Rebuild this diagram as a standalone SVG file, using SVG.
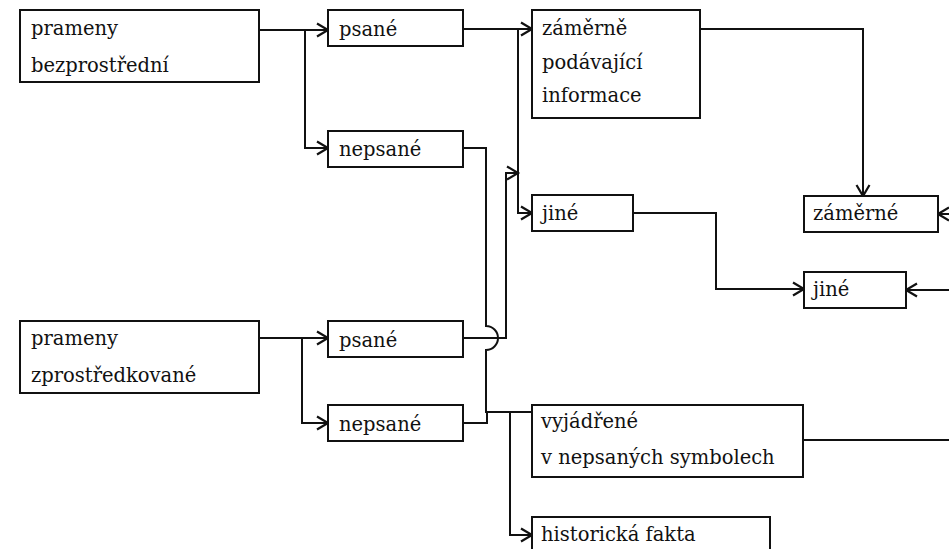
<svg xmlns="http://www.w3.org/2000/svg" width="949" height="549" viewBox="0 0 949 549">
<style>
.box{fill:#fff;stroke:#111;stroke-width:2}
.t{font-family:"DejaVu Serif","Liberation Serif",serif;font-size:19.5px;fill:#111}
.c{fill:none;stroke:#111;stroke-width:2}
</style>
<defs>
<marker id="ah" markerUnits="userSpaceOnUse" markerWidth="16" markerHeight="16" viewBox="-12 -8 14 16" refX="0" refY="0" orient="auto">
<path d="M-11,-6.5 L0,0 L-11,6.5" fill="none" stroke="#111" stroke-width="2.2"/>
</marker>
</defs>
<rect width="949" height="549" fill="#fff"/>
<g id="connectors">
<path class="c" d="M259,30 H328" marker-end="url(#ah)"/>
<path class="c" d="M305,30 V148 H328" marker-end="url(#ah)"/>
<path class="c" d="M463,29 H532" marker-end="url(#ah)"/>
<path class="c" d="M518,29 V213 H532" marker-end="url(#ah)"/>
<path class="c" d="M463,338 H506 V173 H518" marker-end="url(#ah)"/>
<path class="c" d="M463,148 H486 V326 A12,12 0 0 1 486,350 V412 H532"/>
<path class="c" d="M463,423 H487 V412"/>
<path class="c" d="M510,412 V535 H532" marker-end="url(#ah)"/>
<path class="c" d="M700,29 H863 V196" marker-end="url(#ah)"/>
<path class="c" d="M633,213 H716 V289 H804" marker-end="url(#ah)"/>
<path class="c" d="M949,214 H938" marker-end="url(#ah)"/>
<path class="c" d="M949,290 H906" marker-end="url(#ah)"/>
<path class="c" d="M803,440 H949"/>
<path class="c" d="M259,338 H328" marker-end="url(#ah)"/>
<path class="c" d="M302,338 V423 H328" marker-end="url(#ah)"/>
</g>
<g id="n-bezprostredni"><rect class="box" x="20" y="10" width="239" height="72"/><text class="t" x="31" y="35">prameny</text><text class="t" x="31" y="72">bezprostřední</text></g>
<g id="n-psane1"><rect class="box" x="328" y="10" width="135" height="36"/><text class="t" x="339" y="36">psané</text></g>
<g id="n-nepsane1"><rect class="box" x="328" y="131" width="135" height="36"/><text class="t" x="339" y="156">nepsané</text></g>
<g id="n-zamerne-podavajici"><rect class="box" x="532" y="10" width="168" height="108"/><text class="t" x="542" y="35">záměrně</text><text class="t" x="542" y="69">podávající</text><text class="t" x="542" y="102">informace</text></g>
<g id="n-jine1"><rect class="box" x="532" y="195" width="101" height="36"/><text class="t" x="542" y="220">jiné</text></g>
<g id="n-zamerne"><rect class="box" x="804" y="196" width="134" height="36"/><text class="t" x="813" y="220">záměrné</text></g>
<g id="n-jine2"><rect class="box" x="804" y="272" width="102" height="36"/><text class="t" x="813" y="296">jiné</text></g>
<g id="n-zprostredkovane"><rect class="box" x="20" y="321" width="239" height="72"/><text class="t" x="31" y="345">prameny</text><text class="t" x="31" y="382">zprostředkované</text></g>
<g id="n-psane2"><rect class="box" x="328" y="321" width="135" height="36"/><text class="t" x="339" y="347">psané</text></g>
<g id="n-nepsane2"><rect class="box" x="328" y="405" width="135" height="36"/><text class="t" x="339" y="431">nepsané</text></g>
<g id="n-vyjadrene"><rect class="box" x="532" y="405" width="271" height="72"/><text class="t" x="541" y="428">vyjádřené</text><text class="t" x="541" y="464">v nepsaných symbolech</text></g>
<g id="n-historicka"><rect class="box" x="532" y="517" width="238" height="42"/><text class="t" x="541" y="541">historická fakta</text></g>
</svg>
